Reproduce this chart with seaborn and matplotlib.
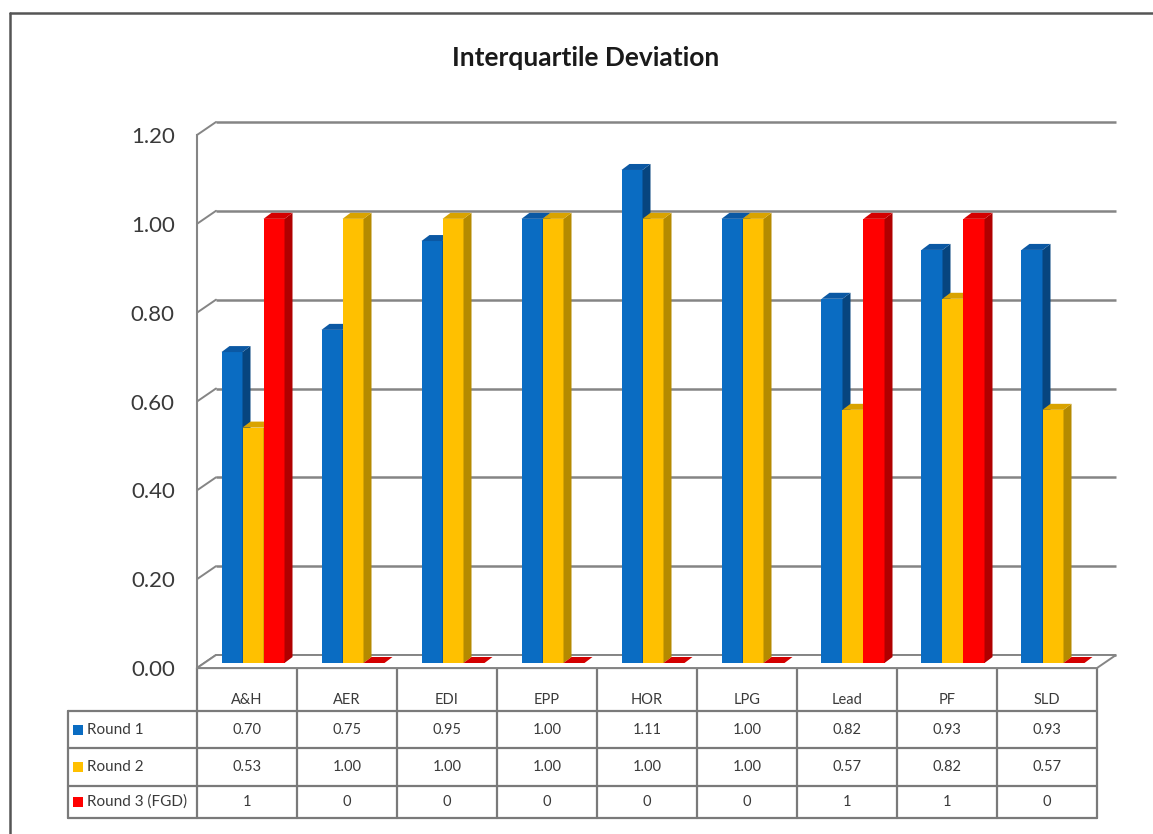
import numpy as np
import pandas as pd
import seaborn as sns
import matplotlib.pyplot as plt
from matplotlib.patches import Polygon, Rectangle
from matplotlib.lines import Line2D

# ---- data -------------------------------------------------------------
categories = ["A&H", "AER", "EDI", "EPP", "HOR", "LPG", "Lead", "PF", "SLD"]
series = ["Round 1", "Round 2", "Round 3 (FGD)"]
round1 = [0.70, 0.75, 0.95, 1.00, 1.11, 1.00, 0.82, 0.93, 0.93]
round2 = [0.53, 1.00, 1.00, 1.00, 1.00, 1.00, 0.57, 0.82, 0.57]
round3 = [1, 0, 0, 0, 0, 0, 1, 1, 0]
yticks = [0.0, 0.2, 0.4, 0.6, 0.8, 1.0, 1.2]

front_colors = ["#0A6CC2", "#FFC000", "#FF0000"]
side_colors = ["#07457F", "#B58A00", "#B00000"]
top_colors = ["#0B58A3", "#D9A300", "#D40000"]
grid_col = "#858585"
text_col = "#3A3A3A"

# ---- figure ------------------------------------------------------------
W, H, DPI = 1153, 834, 100
sns.set_theme(style="white")
plt.rcParams["font.family"] = ["Lato", "DejaVu Sans"]

fig = plt.figure(figsize=(W / DPI, H / DPI), dpi=DPI)
fig.patch.set_facecolor("white")
ax = fig.add_axes([197 / W, (H - 668) / H, 900 / W, 533 / H])
ax.set_facecolor("none")

df = pd.DataFrame({
    "category": categories * 3,
    "round": np.repeat(series, len(categories)),
    "value": round1 + round2 + [float(v) for v in round3],
})

sns.barplot(data=df, x="category", y="value", hue="round", order=categories,
            hue_order=series, palette=front_colors, width=0.63, gap=0,
            saturation=1, errorbar=None, legend=False, ax=ax)

ax.set_xlim(-0.5, 8.5)
ax.set_ylim(0, 1.2)

# pixel -> data unit conversion for the pseudo-3D depth offsets
pos = ax.get_position()
ppx = pos.width * W / 9.0
ppy = pos.height * H / 1.2


def dpx(dx, dy):
    return dx / ppx, dy / ppy


wall_dx, wall_dy = dpx(19, 13)     # back wall depth
bar_sx, bar_sy = dpx(6, 5)         # bars sit inside the box
depth_dx, depth_dy = dpx(8, 6)     # bar thickness

# back wall gridlines + slanted ticks to the front axis
for v in yticks:
    ax.plot([-0.5 + wall_dx, 8.5 + wall_dx], [v + wall_dy] * 2, color=grid_col,
            lw=1.8, zorder=1, clip_on=False, solid_capstyle="butt")
    ax.plot([-0.5, -0.5 + wall_dx], [v, v + wall_dy], color=grid_col,
            lw=1.4, zorder=1, clip_on=False)

# floor
floor = Polygon([(-0.5, 0), (8.5, 0), (8.5 + wall_dx, wall_dy), (-0.5 + wall_dx, wall_dy)],
                closed=True, facecolor="white", edgecolor=grid_col, lw=1.4,
                zorder=1.5, clip_on=False)
ax.add_patch(floor)

# bars: shift into the box, add side and top faces
for j, cont in enumerate(ax.containers):
    for p in cont.patches:
        x0 = p.get_x() + bar_sx
        w = p.get_width()
        h = p.get_height()
        cat_i = int(round(p.get_x() + w / 2))
        z = 2 + (cat_i * 3 + j) * 0.01
        p.set_x(x0)
        p.set_y(bar_sy)
        p.set_zorder(z)
        p.set_edgecolor("none")
        p.set_clip_on(False)
        x1 = x0 + w
        base, top = bar_sy, bar_sy + h
        side = Polygon([(x1, base), (x1, top), (x1 + depth_dx, top + depth_dy),
                        (x1 + depth_dx, base + depth_dy)], closed=True,
                       facecolor=side_colors[j], edgecolor="none", zorder=z, clip_on=False)
        cap = Polygon([(x0, top), (x1, top), (x1 + depth_dx, top + depth_dy),
                       (x0 + depth_dx, top + depth_dy)], closed=True,
                      facecolor=top_colors[j], edgecolor="none", zorder=z, clip_on=False)
        ax.add_patch(side)
        ax.add_patch(cap)

# axes cosmetics
for s in ["top", "right", "bottom"]:
    ax.spines[s].set_visible(False)
ax.spines["left"].set_color(grid_col)
ax.spines["left"].set_linewidth(1.5)
ax.set_yticks(yticks)
ax.set_yticklabels([f"{v:.2f}" for v in yticks])
ax.tick_params(axis="y", length=0, pad=16, labelsize=16, labelcolor=text_col)
ax.set_xticks([])
ax.set_xlabel("")
ax.set_ylabel("")

# ---- data table under the chart ----------------------------------------
tab = fig.add_axes([0, 0, 1, 1], zorder=-1)
tab.set_xlim(0, W)
tab.set_ylim(H, 0)
tab.axis("off")

col_x = [ax.transData.transform((k - 0.5, 0))[0] for k in range(len(categories) + 1)]
y_top = H - ax.transData.transform((0, 0))[1]
row_y = [y_top, 711, 748, 786, 818]
leg_x = 68
lc = "#7A7A7A"

for x in col_x:
    tab.plot([x, x], [row_y[0], row_y[-1]], color=lc, lw=1.6)
tab.plot([leg_x, leg_x], [row_y[1], row_y[-1]], color=lc, lw=1.6)
tab.plot([col_x[0], col_x[-1]], [row_y[0]] * 2, color=lc, lw=1.6)
for y in row_y[1:]:
    tab.plot([leg_x, col_x[-1]], [y, y], color=lc, lw=1.6)

cell_fs = 10.5
for k, cat in enumerate(categories):
    cx = (col_x[k] + col_x[k + 1]) / 2
    tab.text(cx, row_y[1] - 11, cat, ha="center", va="center", fontsize=cell_fs, color=text_col)

rows = [
    [f"{v:.2f}" for v in round1],
    [f"{v:.2f}" for v in round2],
    [f"{v:d}" for v in round3],
]
for r, vals in enumerate(rows):
    cy = (row_y[r + 1] + row_y[r + 2]) / 2
    tab.add_patch(Rectangle((73, cy - 5), 10, 10, facecolor=front_colors[r], edgecolor="none"))
    tab.text(87, cy, series[r], ha="left", va="center", fontsize=cell_fs + 0.5, color=text_col)
    for k, s in enumerate(vals):
        cx = (col_x[k] + col_x[k + 1]) / 2
        tab.text(cx, cy, s, ha="center", va="center", fontsize=cell_fs, color=text_col)

# ---- title and outer frame -----------------------------------------------
fig.text(586 / W, 1 - 58 / H, "Interquartile Deviation", ha="center", va="center",
         fontsize=19, fontweight="bold", color="#1A1A1A")
frame_c = "#555555"
fig.add_artist(Line2D([10 / W, 10 / W], [0, 1 - 13 / H], color=frame_c, lw=1.8))
fig.add_artist(Line2D([10 / W, 1], [1 - 13 / H, 1 - 13 / H], color=frame_c, lw=1.8))

fig.savefig("out.png", dpi=DPI, facecolor="white")
